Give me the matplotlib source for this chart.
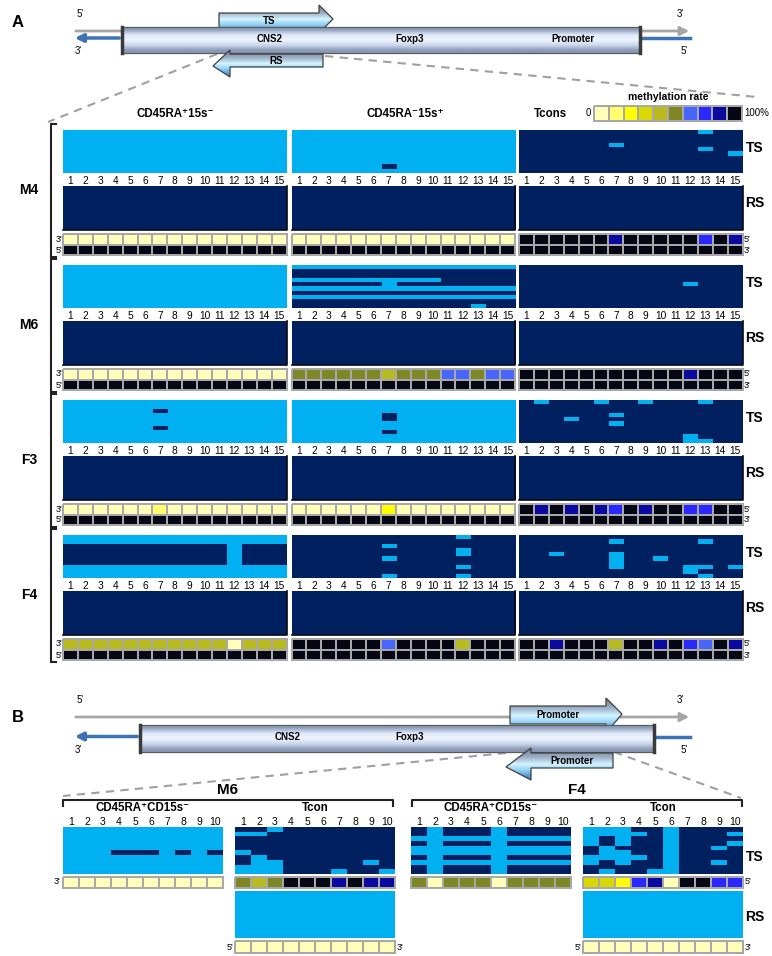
import numpy as np
import matplotlib
matplotlib.use("Agg")
import matplotlib.pyplot as plt
from matplotlib.colors import ListedColormap, to_rgb
from matplotlib.patches import Polygon

plt.rcParams['font.family'] = ['Liberation Sans', 'DejaVu Sans']

# --- bisulfite clone data: one string per clone (top to bottom), one char per CpG, 1 = methylated ---
sites_a = [str(i) for i in range(1, 16)]
sites_b = [str(i) for i in range(1, 11)]
groups_a = ["M4", "M6", "F3", "F4"]
pops_a = ["CD45RA\u207a15s\u207b", "CD45RA\u207b15s\u207a", "Tcons"]

ts_m4_rap = ["000000000000000"] * 10
ts_m4_ram = ["000000000000000"] * 8 + ["000000100000000", "000000000000000"]
ts_m4_tcons = ["111111111111011", "111111111111111", "111111111111111", "111111011111111",
               "111111111111011", "111111111111110", "111111111111111", "111111111111111",
               "111111111111111", "111111111111111"]

ts_m6_rap = ["000000000000000"] * 10
ts_m6_ram = ["000000000000000", "111111111111111", "111111111111111", "000000000011111",
             "111111011111111", "000000000000000", "111111111111111", "000000000000000",
             "111111111111111", "111111111111011"]
ts_m6_tcons = ["111111111111111"] * 4 + ["111111111110111"] + ["111111111111111"] * 5

ts_f3_rap = ["000000000000000", "000000000000000", "000000100000000", "000000000000000",
             "000000000000000", "000000000000000", "000000100000000", "000000000000000",
             "000000000000000", "000000000000000"]
ts_f3_ram = ["000000000000000", "000000000000000", "000000000000000", "000000100000000",
             "000000100000000", "000000000000000", "000000000000000", "000000100000000",
             "000000000000000", "000000000000000"]
ts_f3_tcons = ["101110110111011", "111111111111111", "111111111111111", "111111011111111",
               "111011111111111", "111111011111111", "111111111111111", "111111111111111",
               "111111111110111", "111111111110011"]

ts_f4_rap = ["000000000000000", "000000000000000", "111111111110111", "111111111110111",
             "111111111110111", "111111111110111", "111111111110111", "000000000000000",
             "000000000000000", "000000000000000"]
ts_f4_ram = ["111111111110111", "111111111111111", "111111011111111", "111111111110111",
             "111111111110111", "111111011111111", "111111111111111", "111111111110111",
             "111111111111111", "111111011110111"]
ts_f4_tcons = ["111111111111111", "111111011111011", "111111111111111", "111111111111111",
               "110111011111111", "111111011011111", "111111011111111", "111111011110010",
               "111111111110111", "111111111111011"]

rs_a = ["111111111111111"] * 10

ts_b_m6_rap = ["0000000000"] * 5 + ["0001110101"] + ["0000000000"] * 4
ts_b_m6_tcon = ["1101111111", "0011111111", "1111111111", "1111111111", "1111111111",
                "0111111111", "1011111111", "1001111101", "0001111111", "0001110110"]
ts_b_f4_rap = ["1011101111", "1011101111", "0000000000", "1011101111", "0000000000",
               "0000000000", "1011101111", "0000000000", "1011101111", "1011101111"]
ts_b_f4_tcon = ["0001101111", "0000101110", "0101101111", "0101101110", "1011101101",
                "1001101111", "0000101111", "0101101101", "1111101111", "1011001111"]
rs_b_tcon = ["0000000000"] * 10

# --- colours ---
clone_cmap = ListedColormap(["#00B0F0", "#002060"])
rate_colors = ["#FFFFB9", "#FFFF6E", "#FFFF00", "#D9D900", "#B9BA1E",
               "#7D8726", "#4766FF", "#2828FF", "#0A0AA0", "#050814"]
rate_cmap = ListedColormap(rate_colors)
legend_levels = [0, 1, 2, 3, 4, 5, 6, 7, 8, 9]


def mat(rows):
    return np.array([[int(c) for c in r] for r in rows])


def rate_levels(rows):
    r = mat(rows).mean(axis=0)
    return np.clip(np.ceil(r * 10 - 1e-9) - 1, 0, 9)


def draw_clones(ax, rows, x0, y0, w, h, shadow=False):
    ax.imshow(mat(rows), cmap=clone_cmap, vmin=0, vmax=1, extent=(x0, x0 + w, y0 + h, y0),
              interpolation='nearest', aspect='auto', zorder=2)
    if shadow:
        ax.plot([x0, x0 + w, x0 + w], [y0 + h, y0 + h, y0], color='#0a0a14', lw=1.2, zorder=3)


def draw_rate(ax, levels, x0, y0, w, h):
    n = len(levels)
    xs = np.linspace(x0, x0 + w, n + 1)
    ax.pcolormesh(xs, [y0, y0 + h], np.asarray(levels)[None, :], cmap=rate_cmap,
                  vmin=-0.5, vmax=9.5, edgecolors='#A8A8A8', linewidth=1.3, zorder=2)


def draw_numbers(ax, labels, x0, y, w, fs=7.3):
    n = len(labels)
    for i, lab in enumerate(labels):
        ax.text(x0 + (i + 0.5) * w / n, y, lab, ha='center', va='center', fontsize=fs)


def gradient_poly(ax, verts, colors, z, ec='#5a5a5a'):
    poly = Polygon(verts, closed=True, facecolor='none', edgecolor=ec, lw=0.9, zorder=z + 0.1)
    ax.add_patch(poly)
    xs = [v[0] for v in verts]
    ys = [v[1] for v in verts]
    grad = np.array([to_rgb(c) for c in colors])[:, None, :]
    im = ax.imshow(grad, extent=(min(xs), max(xs), max(ys), min(ys)), aspect='auto',
                   interpolation='bilinear', zorder=z)
    im.set_clip_path(poly)


box_grad = ["#8E9FBC", "#DDE7F7", "#EEF4FD", "#C9D7EC", "#8A9AB6"]
arrow_grad = ["#7E8A9C", "#9FB4CC", "#D4F4FF", "#8FD0F4", "#4F8FC8"]


def gene_diagram(ax, yl, yb0, yb1, xb0, xb1, cns_x, fox_x, prom_x=None):
    ax.annotate('', xy=(692, yl), xytext=(73, yl),
                arrowprops=dict(arrowstyle='-|>', color='#A6A6A6', lw=2, mutation_scale=13), zorder=1)
    ym = (yb0 + yb1) / 2 - 2
    ax.annotate('', xy=(72, ym), xytext=(xb0, ym),
                arrowprops=dict(arrowstyle='-|>', color='#3C72B6', lw=2.5, mutation_scale=12), zorder=1)
    ax.plot([xb1, 690], [ym, ym], color='#3C72B6', lw=2.5, zorder=1)
    gradient_poly(ax, [(xb0, yb0), (xb1, yb0), (xb1, yb1), (xb0, yb1)], box_grad, 5)
    ax.plot([xb0, xb0], [yb0, yb1], color='#3a3a3a', lw=2.5, zorder=6)
    ax.plot([xb1, xb1], [yb0, yb1], color='#3a3a3a', lw=2.5, zorder=6)
    ax.text(80, yl - 17, "5'", fontsize=7, ha='center', va='center')
    ax.text(680, yl - 17, "3'", fontsize=7, ha='center', va='center')
    ax.text(78, yb1 - 2, "3'", fontsize=7, ha='center', va='center')
    ax.text(684, yb1 - 2, "5'", fontsize=7, ha='center', va='center')
    ax.text(cns_x, ym + 1, "CNS2", fontsize=7, weight='bold', ha='center', va='center', zorder=7)
    ax.text(fox_x, ym + 1, "Foxp3", fontsize=7, weight='bold', ha='center', va='center', zorder=7)
    if prom_x is not None:
        ax.text(prom_x, ym + 1, "Promoter", fontsize=7, weight='bold', ha='center', va='center', zorder=7)


def right_arrow(ax, x0, x1, xtip, yt, yb, ht, hb, ytip, label):
    verts = [(x0, yt), (x1, yt), (x1, ht), (xtip, ytip), (x1, hb), (x1, yb), (x0, yb)]
    gradient_poly(ax, verts, arrow_grad, 3, ec='#404040')
    ax.text((x0 + x1) / 2, (yt + yb) / 2, label, fontsize=7, weight='bold', ha='center', va='center', zorder=4)


def left_arrow(ax, x0, x1, xtip, yt, yb, ht, hb, ytip, label):
    verts = [(x1, yt), (x0, yt), (x0, ht), (xtip, ytip), (x0, hb), (x0, yb), (x1, yb)]
    gradient_poly(ax, verts, arrow_grad, 7, ec='#404040')
    ax.text((x0 + x1) / 2, (yt + yb) / 2, label, fontsize=7, weight='bold', ha='center', va='center', zorder=8)


fig = plt.figure(figsize=(7.72, 9.56), dpi=100)
ax = fig.add_axes([0, 0, 1, 1])

# ================= panel A =================
ax.text(18, 22, "A", fontsize=12, weight='bold', ha='center', va='center')
gene_diagram(ax, 31, 27, 53, 122, 640, 270, 410, 573)
right_arrow(ax, 219, 319, 333, 13, 28, 5, 33, 19, "TS")
left_arrow(ax, 230, 323, 213, 54, 67, 50, 77, 66, "RS")
ax.plot([217, 48], [54, 122], color='#A0A0A0', lw=1.5, ls=(0, (4, 3)), zorder=0)
ax.plot([325, 757], [56, 97], color='#A0A0A0', lw=1.5, ls=(0, (4, 3)), zorder=0)

# legend
ax.text(668, 97, "methylation rate", fontsize=7.5, weight='bold', ha='center', va='center')
draw_rate(ax, legend_levels, 594, 106, 148, 15)
ax.text(591, 113, "0", fontsize=7, ha='right', va='center')
ax.text(744, 113, "100%", fontsize=7, ha='left', va='center')

col_x = [63, 291.5, 519]
col_w = 223.5
head_x = [175, 405, 550]
for lab, hx in zip(pops_a, head_x):
    ax.text(hx, 114, lab, fontsize=8.3, weight='bold', ha='center', va='center')

ts_a = {"M4": [ts_m4_rap, ts_m4_ram, ts_m4_tcons],
        "M6": [ts_m6_rap, ts_m6_ram, ts_m6_tcons],
        "F3": [ts_f3_rap, ts_f3_ram, ts_f3_tcons],
        "F4": [ts_f4_rap, ts_f4_ram, ts_f4_tcons]}
group_y = [130, 265, 400, 535]

for g, y0 in zip(groups_a, group_y):
    for rows, x0 in zip(ts_a[g], col_x):
        draw_clones(ax, rows, x0, y0, col_w, 43)
        draw_numbers(ax, sites_a, x0, y0 + 51, col_w)
        draw_clones(ax, rs_a, x0, y0 + 56, col_w, 44, shadow=True)
        draw_rate(ax, rate_levels(rows), x0, y0 + 104, col_w, 10.5)
        draw_rate(ax, rate_levels(rs_a), x0, y0 + 114.5, col_w, 10.5)
    ax.plot([56, 51, 51, 56], [y0 - 6, y0 - 6, y0 + 127, y0 + 127], color='#222222', lw=1.5,
            solid_joinstyle='miter')
    ax.text(29, y0 + 60, g, fontsize=10, weight='bold', ha='center', va='center')
    ax.text(755, y0 + 18, "TS", fontsize=10, weight='bold', ha='center', va='center')
    ax.text(755, y0 + 73, "RS", fontsize=10, weight='bold', ha='center', va='center')
    ax.text(62, y0 + 109, "3'", fontsize=6.5, ha='right', va='center')
    ax.text(62, y0 + 120, "5'", fontsize=6.5, ha='right', va='center')
    ax.text(744, y0 + 109, "5'", fontsize=6.5, ha='left', va='center')
    ax.text(744, y0 + 120, "3'", fontsize=6.5, ha='left', va='center')

# ================= panel B =================
ax.text(18, 718, "B", fontsize=12, weight='bold', ha='center', va='center')
gene_diagram(ax, 717, 725, 752, 140, 654, 288, 410)
right_arrow(ax, 510, 606, 622, 706, 724, 698, 733, 714, "Promoter")
left_arrow(ax, 531, 613, 506, 753, 768, 748, 780, 767, "Promoter")
ax.plot([506, 63], [753, 796], color='#A0A0A0', lw=1.5, ls=(0, (4, 3)), zorder=0)
ax.plot([614, 741], [752, 798], color='#A0A0A0', lw=1.5, ls=(0, (4, 3)), zorder=0)

b_w = 160
b_groups = [("M6", 63, 393, [(ts_b_m6_rap, None, 63), (ts_b_m6_tcon, rs_b_tcon, 235)]),
            ("F4", 412, 742, [(ts_b_f4_rap, None, 411), (ts_b_f4_tcon, rs_b_tcon, 583)])]
b_pops = ["CD45RA\u207aCD15s\u207b", "Tcon"]
for g, bx0, bx1, blocks in b_groups:
    ax.text((bx0 + bx1) / 2, 790, g, fontsize=11, weight='bold', ha='center', va='center')
    ax.plot([bx0, bx0, bx1, bx1], [806, 800, 800, 806], color='#222222', lw=1.5)
    for (ts_rows, rs_rows, x0), lab in zip(blocks, b_pops):
        ax.text(x0 + b_w / 2, 808, lab, fontsize=8.3, weight='bold', ha='center', va='center')
        draw_numbers(ax, sites_b, x0, 822, b_w, fs=7.5)
        draw_clones(ax, ts_rows, x0, 827, b_w, 47)
        draw_rate(ax, rate_levels(ts_rows), x0, 877, b_w, 11)
        if rs_rows is not None:
            draw_clones(ax, rs_rows, x0, 891, b_w, 47)
            draw_rate(ax, rate_levels(rs_rows), x0, 941, b_w, 11.5)
            ax.text(x0 - 2, 947, "5'", fontsize=6.5, ha='right', va='center')
            ax.text(x0 + b_w + 2, 947, "3'", fontsize=6.5, ha='left', va='center')

ax.text(60, 882, "3'", fontsize=6.5, ha='right', va='center')
ax.text(745, 882, "5'", fontsize=6.5, ha='left', va='center')
ax.text(755, 857, "TS", fontsize=10, weight='bold', ha='center', va='center')
ax.text(755, 917, "RS", fontsize=10, weight='bold', ha='center', va='center')

ax.set_xlim(0, 772)
ax.set_ylim(956, 0)
ax.axis('off')
fig.savefig("out.png", dpi=100)
